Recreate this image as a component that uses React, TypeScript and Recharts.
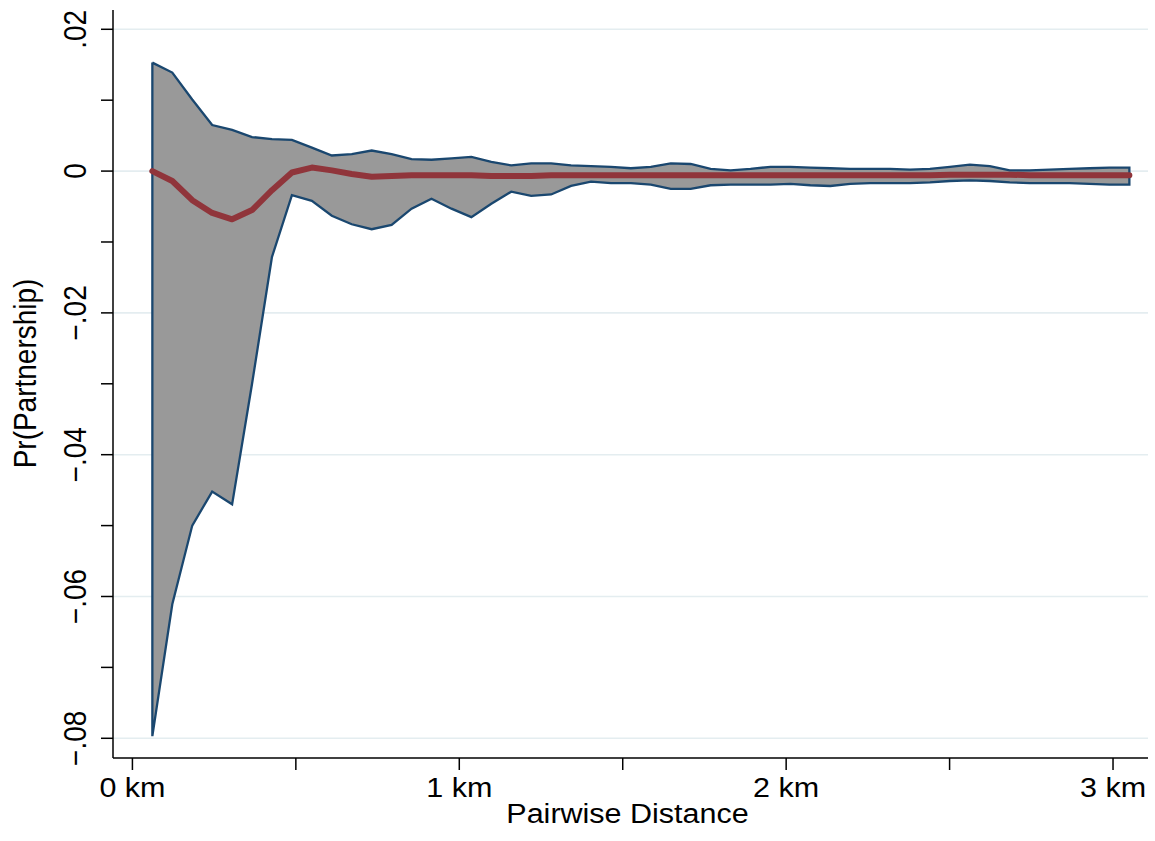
import React from 'react';
import { ComposedChart, Area, Line, Scatter, XAxis, YAxis, CartesianGrid } from 'recharts';

// Pairwise distance (km)
const distanceKm = [
  0.061, 0.122, 0.183, 0.244, 0.305, 0.366, 0.427, 0.488, 0.549, 0.61,
  0.671, 0.732, 0.793, 0.854, 0.915, 0.976, 1.037, 1.098, 1.159, 1.22,
  1.281, 1.342, 1.403, 1.464, 1.525, 1.586, 1.647, 1.708, 1.769, 1.83,
  1.891, 1.952, 2.013, 2.074, 2.135, 2.196, 2.257, 2.318, 2.379, 2.44,
  2.501, 2.562, 2.623, 2.684, 2.745, 2.806, 2.867, 2.928, 2.989, 3.05,
];

// Upper confidence bound
const upperCI = [
  0.0153, 0.0139, 0.0101, 0.0065, 0.0058, 0.0048, 0.0045, 0.0044, 0.0033, 0.0022,
  0.0024, 0.0029, 0.0024, 0.0017, 0.0016, 0.0018, 0.002, 0.0013, 0.0008, 0.0011,
  0.0011, 0.0008, 0.0007, 0.0006, 0.0004, 0.0006, 0.0011, 0.001, 0.0003, 0.0001,
  0.0003, 0.0006, 0.0006, 0.0005, 0.0004, 0.0003, 0.0003, 0.0003, 0.0002, 0.0003,
  0.0006, 0.0009, 0.0007, 0.0001, 0.0001, 0.0002, 0.0003, 0.0004, 0.0005, 0.0005,
];

// Point estimate
const estimate = [
  0.0, -0.0014, -0.0041, -0.0059, -0.0068, -0.0055, -0.0027, -0.0002, 0.0005, 0.0001,
  -0.0004, -0.0008, -0.0007, -0.0006, -0.0006, -0.0006, -0.0006, -0.0007, -0.0007, -0.0007,
  -0.0006, -0.0006, -0.0006, -0.0006, -0.0006, -0.0006, -0.0006, -0.0006, -0.0006, -0.0006,
  -0.0006, -0.0006, -0.0006, -0.0006, -0.0006, -0.0006, -0.0006, -0.0006, -0.0006, -0.0006,
  -0.0005, -0.0005, -0.0005, -0.0005, -0.0006, -0.0006, -0.0006, -0.0006, -0.0006, -0.0006,
];

// Lower confidence bound
const lowerCI = [
  -0.0797, -0.0611, -0.05, -0.0452, -0.047, -0.03, -0.0121, -0.0034, -0.0042, -0.0063,
  -0.0075, -0.0082, -0.0076, -0.0053, -0.0039, -0.0053, -0.0065, -0.0046, -0.0029, -0.0035,
  -0.0033, -0.0021, -0.0015, -0.0017, -0.0017, -0.0019, -0.0025, -0.0025, -0.002, -0.0019,
  -0.0019, -0.0019, -0.0018, -0.002, -0.0021, -0.0018, -0.0017, -0.0017, -0.0017, -0.0016,
  -0.0014, -0.0013, -0.0014, -0.0016, -0.0017, -0.0017, -0.0017, -0.0018, -0.0019, -0.0019,
];

const xTicks = [0, 0.5, 1, 1.5, 2, 2.5, 3];
const xLabeled = [0, 1, 2, 3];
const xTickLabels = ['0 km', '1 km', '2 km', '3 km'];

const yTicks = [0.02, 0.01, 0, -0.01, -0.02, -0.03, -0.04, -0.05, -0.06, -0.07, -0.08];
const yMajor = [0.02, 0, -0.02, -0.04, -0.06, -0.08];
const yTickLabels = ['.02', '0', '\u2212.02', '\u2212.04', '\u2212.06', '\u2212.08'];

const xTitle = 'Pairwise Distance';
const yTitle = 'Pr(Partnership)';

const rows = distanceKm.map((x, i) => ({ x, range: [lowerCI[i], upperCI[i]], mean: estimate[i] }));
const outline = [
  ...distanceKm.map((x, i) => ({ x, y: upperCI[i] })),
  ...distanceKm.map((x, i) => ({ x, y: lowerCI[i] })).reverse(),
  { x: distanceKm[0], y: upperCI[0] },
];

const FONT = '"Liberation Sans", Arial, Helvetica, sans-serif';
const FS = 28;
const SX = 1.09;

const XTick = (props: any) => {
  const { x, y, payload } = props;
  const idx = xLabeled.findIndex((v) => Math.abs(v - payload.value) < 1e-9);
  if (idx < 0) return <g />;
  return (
    <text
      transform={`translate(${x},${y + 25}) scale(${SX},1)`}
      textAnchor="middle"
      fontFamily={FONT}
      fontSize={FS}
      fill="#000"
    >
      {xTickLabels[idx]}
    </text>
  );
};

const YTick = (props: any) => {
  const { x, y, payload } = props;
  const idx = yMajor.findIndex((v) => Math.abs(v - payload.value) < 1e-9);
  if (idx < 0) return <g />;
  return (
    <text
      transform={`translate(${x - 13},${y}) scale(${SX},1) rotate(-90)`}
      textAnchor="middle"
      fontFamily={FONT}
      fontSize={FS}
      fill="#000"
    >
      {yTickLabels[idx]}
    </text>
  );
};

const XTitle = () => (
  <text
    transform={`translate(627.5,823) scale(${SX},1)`}
    textAnchor="middle"
    fontFamily={FONT}
    fontSize={FS}
    fill="#000"
  >
    {xTitle}
  </text>
);

const YTitle = () => (
  <text
    transform={`translate(36,373.5) scale(${SX},1) rotate(-90)`}
    textAnchor="middle"
    fontFamily={FONT}
    fontSize={FS}
    fill="#000"
  >
    {yTitle}
  </text>
);

export default function App() {
  return (
    <div style={{ position: 'absolute', left: 0, top: 0, width: 1155, height: 841, background: '#fff' }}>
      <ComposedChart
        width={1155}
        height={841}
        data={rows}
        margin={{ top: 10, right: 7, bottom: 0, left: 0 }}
      >
        <CartesianGrid
          vertical={false}
          horizontalValues={yMajor}
          stroke="#e4edf0"
          strokeWidth={1.6}
        />
        <XAxis
          dataKey="x"
          type="number"
          domain={[-0.0594, 3.107]}
          ticks={xTicks}
          interval={0}
          allowDataOverflow
          height={83}
          tickSize={12}
          axisLine={{ stroke: '#000', strokeWidth: 1.5 }}
          tickLine={{ stroke: '#000', strokeWidth: 1.5 }}
          tick={<XTick />}
          label={<XTitle />}
        />
        <YAxis
          type="number"
          domain={[-0.08278, 0.02272]}
          ticks={yTicks}
          interval={0}
          allowDataOverflow
          width={113}
          tickSize={12}
          axisLine={{ stroke: '#000', strokeWidth: 1.5 }}
          tickLine={{ stroke: '#000', strokeWidth: 1.5 }}
          tick={<YTick />}
          label={<YTitle />}
        />
        <Area
          dataKey="range"
          type="linear"
          fill="#999999"
          fillOpacity={1}
          stroke="none"
          isAnimationActive={false}
          activeDot={false}
        />
        <Scatter
          data={outline}
          dataKey="y"
          line={{ stroke: '#1a476f', strokeWidth: 2.3 }}
          lineType="joint"
          shape={() => <g />}
          fill="#1a476f"
          isAnimationActive={false}
        />
        <Line
          dataKey="mean"
          type="linear"
          stroke="#90353b"
          strokeWidth={6}
          strokeLinecap="round"
          strokeLinejoin="round"
          dot={false}
          activeDot={false}
          isAnimationActive={false}
          zIndex={700}
        />
      </ComposedChart>
    </div>
  );
}
